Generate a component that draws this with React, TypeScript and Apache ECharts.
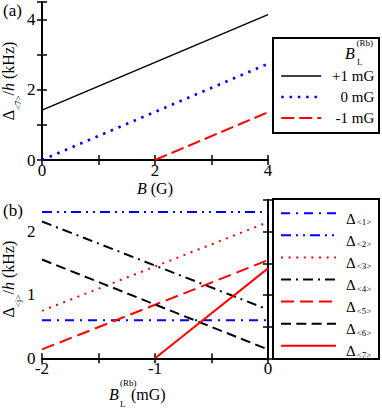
import React, { useEffect, useRef } from "react";
import * as echarts from "echarts";

// ---------- data ----------
const aSeriesNames = ["+1 mG", "0 mG", "-1 mG"];
const aPlus1: number[][] = [[0, 1.42], [4, 4.14]];
const aZero: number[][] = [[0, 0], [4, 2.74]];
const aMinus1: number[][] = [[2, 0], [4, 1.36]];

const bSeriesNames = ["Δ<1>", "Δ<2>", "Δ<3>", "Δ<4>", "Δ<5>", "Δ<6>", "Δ<7>"];
const bD1: number[][] = [[-2, 0.6], [0, 0.6]];
const bD2: number[][] = [[-2, 2.31], [0, 2.31]];
const bD3: number[][] = [[-2, 0.75], [0, 2.15]];
const bD4: number[][] = [[-2, 2.16], [0, 0.77]];
const bD5: number[][] = [[-2, 0.14], [0, 1.55]];
const bD6: number[][] = [[-2, 1.56], [0, 0.14]];
const bD7: number[][] = [[-1, 0], [0, 1.42]];

const aXLabels = [0, 2, 4];
const aYLabels = [0, 2, 4];
const bXLabels = [-2, -1, 0];
const bYLabels = [0, 1, 2];

// ---------- styling ----------
const FONT = '"Liberation Serif", "Times New Roman", serif';
const BLUE = "#0000ff";
const RED = "#ff0000";
const BLACK = "#000000";

const aStyles = [
  { color: BLACK, width: 1.5, type: "solid" as any },
  { color: BLUE, width: 2.5, type: [2.5, 5.8] as any },
  { color: RED, width: 2, type: [13, 5] as any },
];
const bStyles = [
  { color: BLUE, width: 2, type: [9, 6, 2, 6] as any },
  { color: BLUE, width: 2, type: [10, 5, 2, 5, 2, 5] as any },
  { color: RED, width: 2, type: [2, 5.6] as any },
  { color: BLACK, width: 2, type: [10, 5, 2, 5] as any },
  { color: RED, width: 2, type: [13, 6] as any },
  { color: BLACK, width: 2, type: [10, 5.3] as any },
  { color: RED, width: 2, type: "solid" as any },
];

function labelFmt(allowed: number[]) {
  return (v: number) => (allowed.some((a) => Math.abs(a - v) < 1e-9) ? String(v) : "");
}

const tick = { show: true, inside: true, length: 5, lineStyle: { color: BLACK, width: 1.5 } };
const line = { show: true, lineStyle: { color: BLACK, width: 2 } };

function mainAxis(extra: any) {
  return { type: "value", axisLine: line, axisTick: tick, splitLine: { show: false }, nameMoveOverlap: false, ...extra };
}
function mirrorAxis(extra: any) {
  return { type: "value", axisLine: line, axisTick: tick, axisLabel: { show: false }, splitLine: { show: false }, ...extra };
}

const yNameRich = {
  d: { fontFamily: FONT, fontSize: 16, lineHeight: 16, verticalAlign: "top", color: BLACK },
  s: { fontFamily: FONT, fontSize: 9, lineHeight: 22, verticalAlign: "bottom", color: BLACK },
  n: { fontFamily: FONT, fontSize: 16, lineHeight: 16, verticalAlign: "top", color: BLACK },
  i: { fontFamily: FONT, fontSize: 16, lineHeight: 16, verticalAlign: "top", fontStyle: "italic", color: BLACK },
};

export default function App() {
  const ref = useRef<HTMLDivElement>(null);
  useEffect(() => {
    document.body.style.margin = "0";
    if (!ref.current) return;
    const chart = echarts.init(ref.current, undefined, { renderer: "svg" });

    const aData = [aPlus1, aZero, aMinus1];
    const bData = [bD1, bD2, bD3, bD4, bD5, bD6, bD7];

    const series: any[] = [];
    aSeriesNames.forEach((n, i) => {
      series.push({
        name: n, type: "line", xAxisIndex: 0, yAxisIndex: 0, data: aData[i], symbol: "none",
        color: aStyles[i].color, lineStyle: { ...aStyles[i], cap: "butt" }, itemStyle: { color: aStyles[i].color },
      });
    });
    bSeriesNames.forEach((n, i) => {
      series.push({
        name: n, type: "line", xAxisIndex: 2, yAxisIndex: 2, data: bData[i], symbol: "none",
        color: bStyles[i].color, lineStyle: { ...bStyles[i], cap: "butt" }, itemStyle: { color: bStyles[i].color },
      });
    });

    const tickLabel = { fontFamily: FONT, fontSize: 17, color: BLACK };

    const option: any = {
      animation: false,
      backgroundColor: "#ffffff",
      textStyle: { fontFamily: FONT, color: BLACK },
      grid: [
        { left: 42, top: 2, width: 226, height: 158, containLabel: false, outerBoundsMode: "none" },
        { left: 42, top: 200, width: 226, height: 158.3, containLabel: false, outerBoundsMode: "none" },
      ],
      xAxis: [
        mainAxis({
          gridIndex: 0, position: "bottom", min: 0, max: 4, interval: 1,
          axisLabel: { ...tickLabel, margin: 2, formatter: labelFmt(aXLabels) },
          name: "{i|B} (G)", nameLocation: "middle", nameGap: 20,
          nameTextStyle: {
            fontFamily: FONT, fontSize: 16, color: BLACK, lineHeight: 16,
            rich: { i: { fontFamily: FONT, fontSize: 16, fontStyle: "italic", color: BLACK, lineHeight: 16 } },
          },
        }),
        mirrorAxis({ gridIndex: 0, position: "top", min: 0, max: 4, interval: 1 }),
        mainAxis({
          gridIndex: 1, position: "bottom", min: -2, max: 0, interval: 0.5,
          axisLabel: { ...tickLabel, margin: 2, formatter: labelFmt(bXLabels) },
        }),
        mirrorAxis({ gridIndex: 1, position: "top", min: -2, max: 0, interval: 0.5 }),
      ],
      yAxis: [
        mainAxis({
          gridIndex: 0, position: "left", min: 0, max: 4.5, interval: 1,
          axisLabel: { ...tickLabel, margin: 6.5, formatter: labelFmt(aYLabels) },
          name: "{d|Δ}{s|<7>}{n|/}{i|h}{n| (kHz)}", nameLocation: "middle", nameGap: 20,
          nameTextStyle: { fontFamily: FONT, fontSize: 16, color: BLACK, lineHeight: 16, rich: yNameRich },
        }),
        mirrorAxis({ gridIndex: 0, position: "right", min: 0, max: 4.5, interval: 1 }),
        mainAxis({
          gridIndex: 1, position: "left", min: 0, max: 2.5, interval: 0.5,
          axisLabel: { ...tickLabel, margin: 6.5, formatter: labelFmt(bYLabels) },
          name: "{d|Δ}{s|<j>}{n|/}{i|h}{n| (kHz)}", nameLocation: "middle", nameGap: 20,
          nameTextStyle: { fontFamily: FONT, fontSize: 16, color: BLACK, lineHeight: 16, rich: yNameRich },
        }),
        mirrorAxis({ gridIndex: 1, position: "right", min: 0, max: 2.5, interval: 0.5 }),
      ],
      legend: [
        {
          data: aSeriesNames,
          orient: "vertical",
          left: 280,
          top: 66,
          padding: 0,
          itemWidth: 40,
          itemHeight: 14,
          itemGap: 1,
          selectedMode: false,
          itemStyle: { opacity: 0, color: "rgba(0,0,0,0)", borderWidth: 0 },
          lineStyle: { width: "inherit" },
          formatter: (n: string) => `{r|${n}}`,
          textStyle: {
            fontFamily: FONT, fontSize: 15, color: BLACK, lineHeight: 20,
            rich: { r: { fontFamily: FONT, fontSize: 15, color: BLACK, lineHeight: 20, width: 48, align: "right" } },
          },
        },
        {
          data: bSeriesNames,
          orient: "vertical",
          left: 280,
          top: 194.3,
          padding: 0,
          itemWidth: 55,
          itemHeight: 14,
          itemGap: -15.93,
          selectedMode: false,
          itemStyle: { opacity: 0, color: "rgba(0,0,0,0)", borderWidth: 0 },
          lineStyle: { width: "inherit" },
          formatter: (n: string) => `{d|Δ}{s|${n.slice(1)}}`,
          textStyle: {
            fontFamily: FONT, fontSize: 15, color: BLACK, lineHeight: 15,
            rich: {
              d: { fontFamily: FONT, fontSize: 15, color: BLACK, lineHeight: 15, verticalAlign: "top", padding: [17, 0, 0, 5] },
              s: { fontFamily: FONT, fontSize: 9, color: BLACK, lineHeight: 38, verticalAlign: "bottom", padding: [0, 0, 5.5, 1] },
            },
          },
        },
      ],
      graphic: [
        { type: "rect", shape: { x: 273, y: 38, width: 106, height: 95 }, style: { fill: "none", stroke: BLACK, lineWidth: 2 } },
        { type: "rect", shape: { x: 273, y: 199, width: 106, height: 160 }, style: { fill: "none", stroke: BLACK, lineWidth: 2 } },
        { type: "text", x: 3, y: 10.5, style: { text: "(a)", fontFamily: FONT, fontSize: 17, fill: BLACK, align: "left", verticalAlign: "middle" } },
        { type: "text", x: 3, y: 210.5, style: { text: "(b)", fontFamily: FONT, fontSize: 17, fill: BLACK, align: "left", verticalAlign: "middle" } },
        // legend (a) title  B_L^(Rb)
        { type: "text", x: 345, y: 53.3, style: { text: "B", fontFamily: FONT, fontSize: 16, fontStyle: "italic", fill: BLACK, align: "left", verticalAlign: "middle" } },
        { type: "text", x: 356.5, y: 43, style: { text: "(Rb)", fontFamily: FONT, fontSize: 9, fill: BLACK, align: "left", verticalAlign: "middle" } },
        { type: "text", x: 357, y: 61.5, style: { text: "L", fontFamily: FONT, fontSize: 9, fill: BLACK, align: "left", verticalAlign: "middle" } },
        // panel (b) x-axis title  B_L^(Rb) (mG)
        { type: "text", x: 109, y: 394, style: { text: "B", fontFamily: FONT, fontSize: 16, fontStyle: "italic", fill: BLACK, align: "left", verticalAlign: "middle" } },
        { type: "text", x: 120, y: 383, style: { text: "(Rb)", fontFamily: FONT, fontSize: 9, fill: BLACK, align: "left", verticalAlign: "middle" } },
        { type: "text", x: 120, y: 404.2, style: { text: "L", fontFamily: FONT, fontSize: 9, fill: BLACK, align: "left", verticalAlign: "middle" } },
        { type: "text", x: 131, y: 394, style: { text: "(mG)", fontFamily: FONT, fontSize: 16, fill: BLACK, align: "left", verticalAlign: "middle" } },
      ],
      series,
    };
    chart.setOption(option);
    return () => chart.dispose();
  }, []);
  return <div ref={ref} style={{ width: 382, height: 409 }} />;
}
